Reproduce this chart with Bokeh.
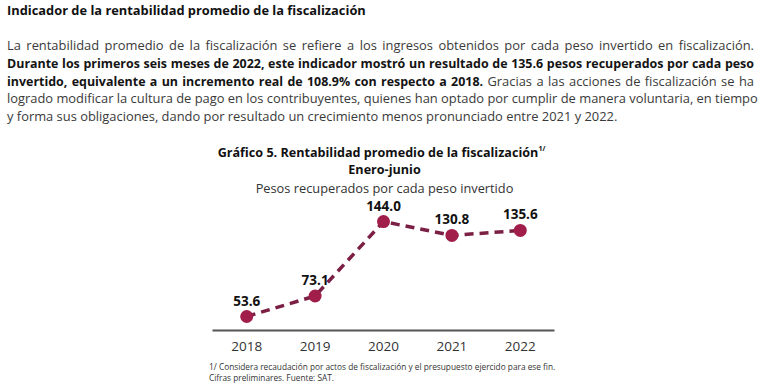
from bokeh.plotting import figure
from bokeh.models import Div, Label, FixedTicker, ColumnDataSource
from bokeh.layouts import column
from bokeh.core.properties import value
from bokeh.embed import file_html
from bokeh.resources import INLINE

# ---- data ----
years = [2018, 2019, 2020, 2021, 2022]
values = [53.6, 73.1, 144.0, 130.8, 135.6]
value_labels = ["53.6", "73.1", "144.0", "130.8", "135.6"]
tick_labels = ["2018", "2019", "2020", "2021", "2022"]

heading = "Indicador de la rentabilidad promedio de la fiscalización"
para_lines = [
    "La rentabilidad promedio de la fiscalización se refiere a los ingresos obtenidos por cada peso invertido en fiscalización.",
    "<b>Durante los primeros seis meses de 2022, este indicador mostró un resultado de 135.6 pesos recuperados por cada peso</b>",
    "<b>invertido, equivalente a un incremento real de 108.9% con respecto a 2018.</b> Gracias a las acciones de fiscalización se ha",
    "logrado modificar la cultura de pago en los contribuyentes, quienes han optado por cumplir de manera voluntaria, en tiempo",
    "y forma sus obligaciones, dando por resultado un crecimiento menos pronunciado entre 2021 y 2022.",
]
chart_title = "Gráfico 5. Rentabilidad promedio de la fiscalización"
chart_sup = "1/"
chart_sub1 = "Enero-junio"
chart_sub2 = "Pesos recuperados por cada peso invertido"
footnotes = [
    "1/ Considera recaudación por actos de fiscalización y el presupuesto ejercido para ese fin.",
    "Cifras preliminares. Fuente: SAT.",
]

FONT = "Open Sans"

# ---- header text (HTML) ----
rows = []
for i, ln in enumerate(para_lines):
    just = "text-align:justify;text-align-last:justify;" if i < len(para_lines) - 1 else "text-align:left;"
    rows.append(f'<div style="{just}white-space:nowrap;">{ln}</div>')
html = (
    f'<div style="font-family:\'{FONT}\',sans-serif;width:747px;margin-left:2px;">'
    f'<div style="font-size:12.85px;font-weight:bold;color:#111;line-height:10px;">{heading}</div>'
    f'<div style="margin-top:22px;font-size:12.9px;line-height:17.8px;color:#3a3a3a;">'
    + "".join(rows).replace("<b>", '<b style="color:#141414;font-size:12.45px;">')
    + "</div></div>"
)
div = Div(text=html, width=752, height=130)

# ---- chart ----
W, H = 752, 222
FIG_TOP = 138   # page y of figure top
FIG_LEFT = 0    # page x of figure left (measured)
FRAME_L, FRAME_R = 212, 554   # figure x of frame
FRAME_T, FRAME_B = 0, 190     # figure y of frame
PX_PER_UNIT = 1.05
y_start = 53.6 - (328 - 314) / PX_PER_UNIT
y_end = y_start + (FRAME_B - FRAME_T) / PX_PER_UNIT

p = figure(width=W, height=H, output_backend="svg", toolbar_location=None,
           x_range=(2017.5, 2022.5), y_range=(y_start, y_end),
           min_border_left=FRAME_L, min_border_right=W - FRAME_R,
           min_border_top=FRAME_T, min_border_bottom=H - FRAME_B)
p.outline_line_color = None
p.xgrid.visible = False
p.ygrid.visible = False
p.yaxis.visible = False
p.background_fill_color = None
p.border_fill_color = None

xa = p.xaxis[0]
xa.ticker = FixedTicker(ticks=years)
xa.major_label_overrides = {y: t for y, t in zip(years, tick_labels)}
xa.axis_line_color = "#555555"
xa.axis_line_width = 2
xa.major_tick_line_color = None
xa.minor_tick_line_color = None
xa.major_tick_in = 0
xa.major_tick_out = 0
xa.major_label_standoff = 11
xa.major_label_text_font = FONT
xa.major_label_text_font_size = "13.5px"
xa.major_label_text_color = "#333333"

src = ColumnDataSource(dict(x=years, y=values, t=value_labels))
p.line("x", "y", source=src, line_color="#7b1f45", line_width=3.5, line_dash="9 6")
p.scatter("x", "y", source=src, size=13, fill_color="#a11e4a", line_color=None)
p.text("x", "y", text="t", source=src, y_offset=-16, text_align="center",
       text_baseline="middle", text_font=value(FONT), text_font_style="bold",
       text_font_size="13.5px", text_color="#111111")

# helpers: page pixel -> data coordinates (for annotation placement only)
def px2x(px):
    fx = px - FIG_LEFT
    return 2017.5 + (fx - FRAME_L) / (FRAME_R - FRAME_L) * 5.0

def py2y(py):
    fy = py - FIG_TOP
    return y_end - (fy - FRAME_T) / PX_PER_UNIT

def lab(text, px, py, size, bold=False, align="center", color="#111111"):
    p.add_layout(Label(x=px2x(px), y=py2y(py), text=text, text_align=align,
                       text_baseline="middle", text_font=FONT,
                       text_font_style="bold" if bold else "normal",
                       text_font_size=size, text_color=color))

lab(chart_title, 377.5, 150, "12.6px", bold=True)
lab(chart_sup, 538, 146, "7px", bold=True, align="left")
lab(chart_sub1, 384, 167, "12.6px", bold=True)
lab(chart_sub2, 384, 185, "12.8px", color="#333333")

foot_html = (
    f'<div style="font-family:\'{FONT}\',sans-serif;font-size:8.3px;line-height:11px;'
    f'color:#333;margin-left:204px;margin-top:-6px;white-space:nowrap;">'
    + "<br>".join(footnotes) + "</div>"
)
foot = Div(text=foot_html, width=752, height=19)

layout = column(div, p, foot)
open("out.html", "w").write(file_html(layout, INLINE))
